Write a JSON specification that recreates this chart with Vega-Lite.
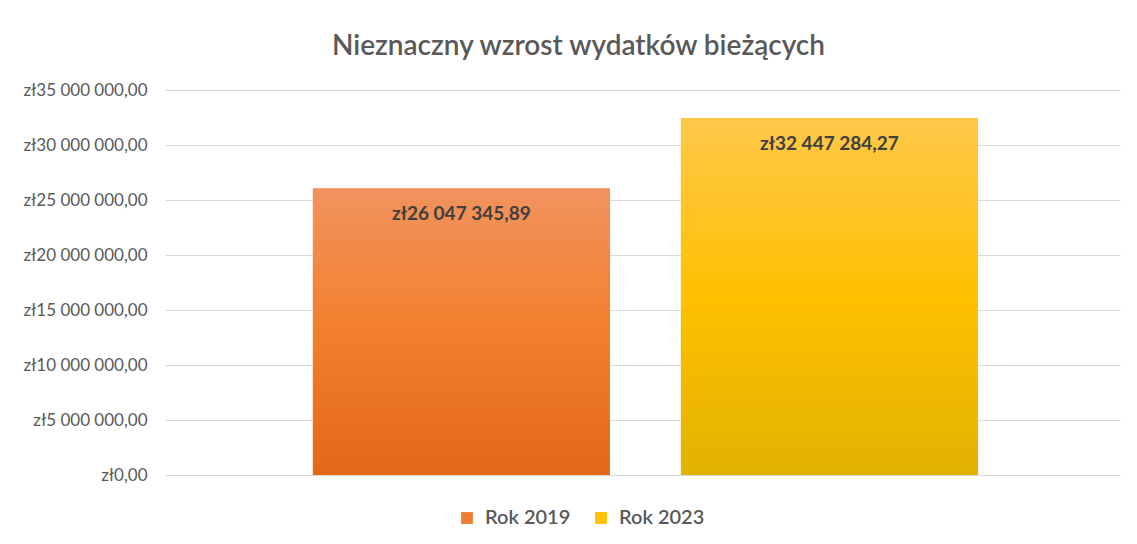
{
  "$schema": "https://vega.github.io/schema/vega-lite/v6.json",
  "autosize": {"type": "none"},
  "width": 955,
  "height": 385,
  "padding": {"left": 165, "top": 90, "right": 17, "bottom": 69},
  "background": "white",
  "title": {
    "text": "Nieznaczny wzrost wydatków bieżących",
    "font": "Lato",
    "fontSize": 28,
    "fontWeight": 600,
    "color": "#595959",
    "anchor": "middle",
    "dx": -64,
    "offset": 20
  },
  "data": {
    "values": [
      {"Rok": "Rok 2019", "Wartosc": 26047345.89},
      {"Rok": "Rok 2023", "Wartosc": 32447284.27}
    ]
  },
  "encoding": {
    "x": {
      "field": "Rok",
      "type": "nominal",
      "axis": null,
      "scale": {"paddingInner": 0.193, "paddingOuter": 0.394, "align": 0.51}
    },
    "y": {
      "field": "Wartosc",
      "type": "quantitative",
      "title": null,
      "scale": {"domain": [0, 35000000], "nice": false},
      "axis": {
        "values": [0, 5000000, 10000000, 15000000, 20000000, 25000000, 30000000, 35000000],
        "format": "$,.2f",
        "domain": false,
        "ticks": false,
        "labelPadding": 18,
        "labelFont": "Lato",
        "labelFontSize": 17,
        "labelColor": "#595959",
        "gridColor": "#D9D9D9",
        "gridWidth": 1
      }
    }
  },
  "layer": [
    {
      "mark": {"type": "bar"},
      "encoding": {
        "color": {
          "field": "Rok",
          "type": "nominal",
          "title": null,
          "scale": {
            "domain": ["Rok 2019", "Rok 2023"],
            "range": ["#EE7E32", "#FFC000"]
          },
          "legend": {
            "orient": "none",
            "direction": "horizontal",
            "legendX": 292,
            "legendY": 418,
            "symbolType": "square",
            "symbolSize": 140,
            "symbolStrokeWidth": 0,
            "labelFont": "Lato",
            "labelFontSize": 20,
            "labelColor": "#595959",
            "labelFontWeight": 600,
            "columnPadding": 20,
            "labelOffset": 8
          }
        }
      }
    },
    {
      "transform": [{"filter": "datum.Rok === 'Rok 2019'"}],
      "mark": {
        "type": "bar",
        "color": {"gradient": "linear", "x1": 0, "y1": 0, "x2": 0, "y2": 1,
          "stops": [{"offset": 0, "color": "#F1935E"}, {"offset": 0.5, "color": "#F27F2C"}, {"offset": 1, "color": "#E3681A"}]}
      }
    },
    {
      "transform": [{"filter": "datum.Rok === 'Rok 2023'"}],
      "mark": {
        "type": "bar",
        "color": {"gradient": "linear", "x1": 0, "y1": 0, "x2": 0, "y2": 1,
          "stops": [{"offset": 0, "color": "#FFC84A"}, {"offset": 0.5, "color": "#FFC000"}, {"offset": 1, "color": "#E1B200"}]}
      }
    },
    {
      "mark": {
        "type": "text",
        "baseline": "middle",
        "dy": 26,
        "font": "Lato",
        "fontSize": 19,
        "fontWeight": "bold",
        "color": "#404040"
      },
      "encoding": {
        "text": {"field": "Wartosc", "type": "quantitative", "format": "$,.2f"}
      }
    }
  ],
  "config": {
    "view": {"stroke": null},
    "locale": {
      "number": {
        "decimal": ",",
        "thousands": " ",
        "grouping": [3],
        "currency": ["zł", ""]
      }
    }
  }
}
